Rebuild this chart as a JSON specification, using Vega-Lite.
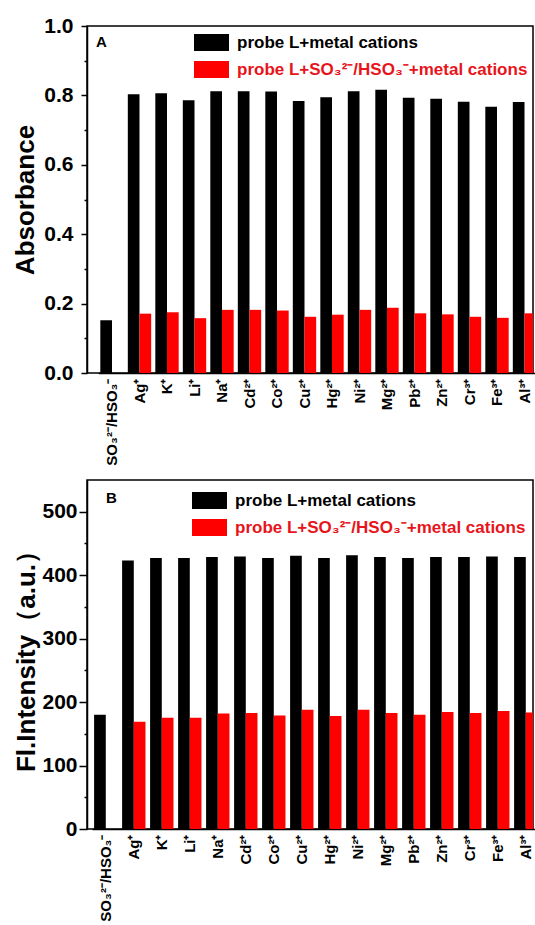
{
  "$schema": "https://vega.github.io/schema/vega-lite/v6.json",
  "background": "white",
  "padding": {"left": 12, "top": 14, "right": 0, "bottom": 0},
  "config": {
    "font": "Liberation Sans",
    "view": {"stroke": "black", "strokeWidth": 1.5},
    "axis": {"domainColor": "black", "domainWidth": 1.5, "tickColor": "black", "tickWidth": 1.5, "labelColor": "black", "titleColor": "black", "labelFont": "Liberation Sans", "titleFont": "Liberation Sans", "labelFontWeight": "bold", "titleFontWeight": "bold", "grid": false},
    "legend": {"orient": "none", "title": null, "padding": 0, "symbolType": "M-1,-0.486H1V0.486H-1Z", "symbolSize": 1225, "symbolStrokeWidth": 0, "symbolOpacity": 1, "labelFont": "Liberation Sans", "labelFontSize": 17, "labelFontWeight": "bold", "rowPadding": -11, "labelOffset": 8, "labelLimit": 400},
    "title": {"anchor": "start", "frame": "group", "fontSize": 15, "fontWeight": "bold", "font": "Liberation Sans", "color": "black", "baseline": "bottom"}
  },
  "datasets": {
    "absorbance": [
      {"ion": "SO₃²⁻/HSO₃⁻", "series": "probe L+metal cations", "value": 0.152},
      {"ion": "Ag⁺", "series": "probe L+metal cations", "value": 0.803},
      {"ion": "Ag⁺", "series": "probe L+SO₃²⁻/HSO₃⁻+metal cations", "value": 0.171},
      {"ion": "K⁺", "series": "probe L+metal cations", "value": 0.806},
      {"ion": "K⁺", "series": "probe L+SO₃²⁻/HSO₃⁻+metal cations", "value": 0.175},
      {"ion": "Li⁺", "series": "probe L+metal cations", "value": 0.786},
      {"ion": "Li⁺", "series": "probe L+SO₃²⁻/HSO₃⁻+metal cations", "value": 0.158},
      {"ion": "Na⁺", "series": "probe L+metal cations", "value": 0.812},
      {"ion": "Na⁺", "series": "probe L+SO₃²⁻/HSO₃⁻+metal cations", "value": 0.182},
      {"ion": "Cd²⁺", "series": "probe L+metal cations", "value": 0.812},
      {"ion": "Cd²⁺", "series": "probe L+SO₃²⁻/HSO₃⁻+metal cations", "value": 0.182},
      {"ion": "Co²⁺", "series": "probe L+metal cations", "value": 0.811},
      {"ion": "Co²⁺", "series": "probe L+SO₃²⁻/HSO₃⁻+metal cations", "value": 0.180},
      {"ion": "Cu²⁺", "series": "probe L+metal cations", "value": 0.784},
      {"ion": "Cu²⁺", "series": "probe L+SO₃²⁻/HSO₃⁻+metal cations", "value": 0.162},
      {"ion": "Hg²⁺", "series": "probe L+metal cations", "value": 0.795},
      {"ion": "Hg²⁺", "series": "probe L+SO₃²⁻/HSO₃⁻+metal cations", "value": 0.168},
      {"ion": "Ni²⁺", "series": "probe L+metal cations", "value": 0.812},
      {"ion": "Ni²⁺", "series": "probe L+SO₃²⁻/HSO₃⁻+metal cations", "value": 0.182},
      {"ion": "Mg²⁺", "series": "probe L+metal cations", "value": 0.816},
      {"ion": "Mg²⁺", "series": "probe L+SO₃²⁻/HSO₃⁻+metal cations", "value": 0.188},
      {"ion": "Pb²⁺", "series": "probe L+metal cations", "value": 0.793},
      {"ion": "Pb²⁺", "series": "probe L+SO₃²⁻/HSO₃⁻+metal cations", "value": 0.172},
      {"ion": "Zn²⁺", "series": "probe L+metal cations", "value": 0.790},
      {"ion": "Zn²⁺", "series": "probe L+SO₃²⁻/HSO₃⁻+metal cations", "value": 0.169},
      {"ion": "Cr³⁺", "series": "probe L+metal cations", "value": 0.782},
      {"ion": "Cr³⁺", "series": "probe L+SO₃²⁻/HSO₃⁻+metal cations", "value": 0.162},
      {"ion": "Fe³⁺", "series": "probe L+metal cations", "value": 0.767},
      {"ion": "Fe³⁺", "series": "probe L+SO₃²⁻/HSO₃⁻+metal cations", "value": 0.159},
      {"ion": "Al³⁺", "series": "probe L+metal cations", "value": 0.781},
      {"ion": "Al³⁺", "series": "probe L+SO₃²⁻/HSO₃⁻+metal cations", "value": 0.172}
    ],
    "fluorescence": [
      {"ion": "SO₃²⁻/HSO₃⁻", "series": "probe L+metal cations", "value": 180},
      {"ion": "Ag⁺", "series": "probe L+metal cations", "value": 423},
      {"ion": "Ag⁺", "series": "probe L+SO₃²⁻/HSO₃⁻+metal cations", "value": 169},
      {"ion": "K⁺", "series": "probe L+metal cations", "value": 427},
      {"ion": "K⁺", "series": "probe L+SO₃²⁻/HSO₃⁻+metal cations", "value": 175.5},
      {"ion": "Li⁺", "series": "probe L+metal cations", "value": 427},
      {"ion": "Li⁺", "series": "probe L+SO₃²⁻/HSO₃⁻+metal cations", "value": 175.5},
      {"ion": "Na⁺", "series": "probe L+metal cations", "value": 428.5},
      {"ion": "Na⁺", "series": "probe L+SO₃²⁻/HSO₃⁻+metal cations", "value": 182},
      {"ion": "Cd²⁺", "series": "probe L+metal cations", "value": 429.5},
      {"ion": "Cd²⁺", "series": "probe L+SO₃²⁻/HSO₃⁻+metal cations", "value": 183},
      {"ion": "Co²⁺", "series": "probe L+metal cations", "value": 427},
      {"ion": "Co²⁺", "series": "probe L+SO₃²⁻/HSO₃⁻+metal cations", "value": 179},
      {"ion": "Cu²⁺", "series": "probe L+metal cations", "value": 430.5},
      {"ion": "Cu²⁺", "series": "probe L+SO₃²⁻/HSO₃⁻+metal cations", "value": 188},
      {"ion": "Hg²⁺", "series": "probe L+metal cations", "value": 427},
      {"ion": "Hg²⁺", "series": "probe L+SO₃²⁻/HSO₃⁻+metal cations", "value": 178},
      {"ion": "Ni²⁺", "series": "probe L+metal cations", "value": 431.5},
      {"ion": "Ni²⁺", "series": "probe L+SO₃²⁻/HSO₃⁻+metal cations", "value": 188},
      {"ion": "Mg²⁺", "series": "probe L+metal cations", "value": 428.5},
      {"ion": "Mg²⁺", "series": "probe L+SO₃²⁻/HSO₃⁻+metal cations", "value": 183},
      {"ion": "Pb²⁺", "series": "probe L+metal cations", "value": 427},
      {"ion": "Pb²⁺", "series": "probe L+SO₃²⁻/HSO₃⁻+metal cations", "value": 180},
      {"ion": "Zn²⁺", "series": "probe L+metal cations", "value": 428.5},
      {"ion": "Zn²⁺", "series": "probe L+SO₃²⁻/HSO₃⁻+metal cations", "value": 184.5},
      {"ion": "Cr³⁺", "series": "probe L+metal cations", "value": 428.5},
      {"ion": "Cr³⁺", "series": "probe L+SO₃²⁻/HSO₃⁻+metal cations", "value": 183},
      {"ion": "Fe³⁺", "series": "probe L+metal cations", "value": 429.5},
      {"ion": "Fe³⁺", "series": "probe L+SO₃²⁻/HSO₃⁻+metal cations", "value": 186},
      {"ion": "Al³⁺", "series": "probe L+metal cations", "value": 428.5},
      {"ion": "Al³⁺", "series": "probe L+SO₃²⁻/HSO₃⁻+metal cations", "value": 183.5}
    ]
  },
  "columns": 1,
  "spacing": 13,
  "resolve": {"legend": {"color": "independent"}},
  "concat": [
    {
      "width": 446,
      "height": 347,
      "title": {"text": "A", "offset": -35, "dx": 9},
      "data": {"name": "absorbance"},
      "mark": {"type": "bar", "clip": true},
      "encoding": {
        "x": {"field": "ion", "type": "nominal", "sort": null,
          "scale": {"range": [11.25, 451.25], "paddingInner": 0.15, "paddingOuter": 0.075},
          "axis": {"title": null, "labelAngle": 270, "ticks": false, "labelFontSize": 15, "labelPadding": 5}},
        "xOffset": {"field": "series", "type": "nominal", "scale": {"domain": ["probe L+metal cations", "probe L+SO₃²⁻/HSO₃⁻+metal cations"]}},
        "y": {"field": "value", "type": "quantitative",
          "scale": {"domain": [0, 1], "nice": false},
          "axis": {"title": "Absorbance", "values": [0, 0.1, 0.2, 0.3, 0.4, 0.5, 0.6, 0.7, 0.8, 0.9, 1.0], "format": ".1f",
            "labelExpr": "round(datum.value*10) % 2 == 0 ? datum.label : ''",
            "tickSize": {"condition": {"test": "round(datum.value*10) % 2 == 1", "value": 3}, "value": 6},
            "labelFontSize": 21, "titleFontSize": 26, "titlePadding": 5, "labelPadding": 8}},
        "color": {"field": "series", "type": "nominal",
          "scale": {"domain": ["probe L+metal cations", "probe L+SO₃²⁻/HSO₃⁻+metal cations"], "range": ["#000000", "#ff0000"]},
          "legend": {"legendX": 107, "legendY": -1, "labelColor": {"expr": "datum.value == 'probe L+metal cations' ? '#000000' : '#e8141b'"}}}
      }
    },
    {
      "width": 446,
      "height": 349,
      "title": {"text": "B", "offset": -26, "dx": 19},
      "data": {"name": "fluorescence"},
      "mark": {"type": "bar", "clip": true},
      "encoding": {
        "x": {"field": "ion", "type": "nominal", "sort": null,
          "scale": {"range": [5, 453], "paddingInner": 0.15, "paddingOuter": 0.075},
          "axis": {"title": null, "labelAngle": 270, "ticks": false, "labelFontSize": 15, "labelPadding": 5}},
        "xOffset": {"field": "series", "type": "nominal", "scale": {"domain": ["probe L+metal cations", "probe L+SO₃²⁻/HSO₃⁻+metal cations"]}},
        "y": {"field": "value", "type": "quantitative",
          "scale": {"domain": [0, 550], "nice": false},
          "axis": {"title": "Fl.Intensity（a.u.）", "values": [0, 50, 100, 150, 200, 250, 300, 350, 400, 450, 500],
            "labelExpr": "datum.value % 100 == 0 ? datum.label : ''",
            "tickSize": {"condition": {"test": "datum.value % 100 != 0", "value": 3}, "value": 8},
            "labelFontSize": 21, "titleFontSize": 26, "titlePadding": 2, "labelPadding": 2}},
        "color": {"field": "series", "type": "nominal",
          "scale": {"domain": ["probe L+metal cations", "probe L+SO₃²⁻/HSO₃⁻+metal cations"], "range": ["#000000", "#ff0000"]},
          "legend": {"legendX": 105, "legendY": 3, "labelColor": {"expr": "datum.value == 'probe L+metal cations' ? '#000000' : '#e8141b'"}}}
      }
    }
  ]
}
